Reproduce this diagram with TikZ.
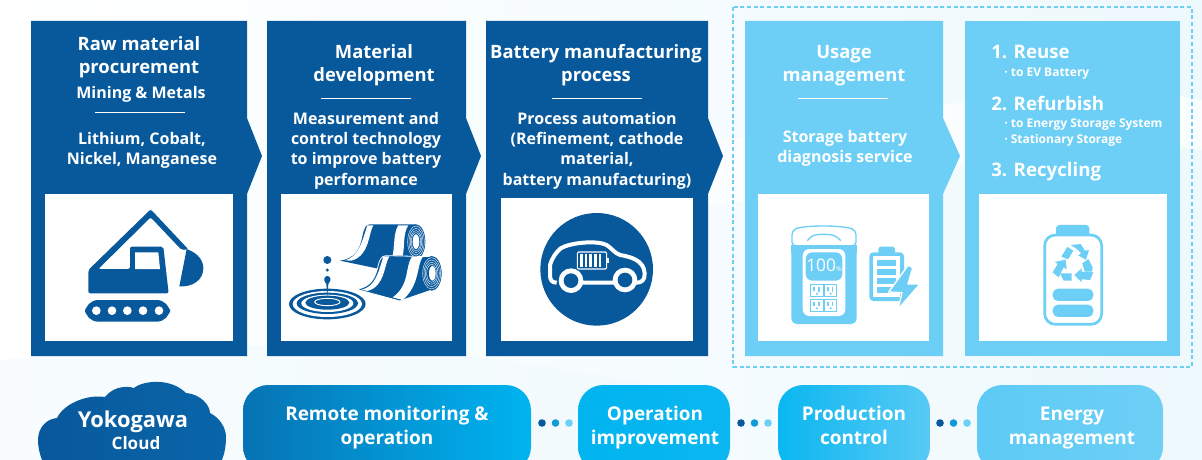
\documentclass[tikz,border=0pt]{standalone}
\usepackage{xcolor}
\usepackage{fontspec}
\setmainfont{Open Sans}
\definecolor{darkpanel}{HTML}{08589C}
\definecolor{lightpanel}{HTML}{6DCFF6}
\definecolor{midblue}{HTML}{0F9AD8}
\definecolor{pillcyan}{HTML}{00B4F0}
\definecolor{pillstart}{HTML}{0673B4}
\definecolor{paleback}{HTML}{EEF9FD}

\begin{document}
\begin{tikzpicture}[x=0.75pt,y=0.75pt,yscale=-1,xscale=1,
  headtext/.style={inner sep=0.75pt,align=center,text=white,font=\bfseries\fontsize{13.8}{17.3}\selectfont},
  bodytext/.style={inner sep=0.75pt,align=center,text=white,font=\bfseries\fontsize{12}{15.3}\selectfont},
  listhead/.style={anchor=west,inner sep=0.75pt,text=white,font=\bfseries\fontsize{14}{17}\selectfont},
  listsub/.style={anchor=west,inner sep=0.75pt,align=left,text=white,font=\bfseries\fontsize{9}{12.6}\selectfont},
  pilltext/.style={inner sep=0.75pt,align=center,text=white,font=\bfseries\fontsize{14.2}{18}\selectfont},
  outlet/.style={fill=white,draw=lightpanel,line width=0.4pt}]
\useasboundingbox (0,0) rectangle (1202,460);
\clip (0,0) rectangle (1202,460);
% background
\shade [left color=white,right color=paleback] (0,0) rectangle (1202,460);
\fill [white,opacity=0.7] (520,200) .. controls (800,240) and (1000,120) .. (1202,150) -- (1202,100) .. controls (1000,60) and (800,160) .. (520,150) -- cycle;
\fill [paleback,opacity=0.4] (0,360) .. controls (300,330) and (500,350) .. (720,400) -- (720,460) -- (0,460) -- cycle;
% panels
\fill [darkpanel] (31,21) -- (247,21) -- (247,118) -- (262,156) -- (247,194) -- (247,356) -- (31,356) -- cycle;
\fill [darkpanel] (267,21) -- (466,21) -- (466,118) -- (481,156) -- (466,194) -- (466,356) -- (267,356) -- cycle;
\fill [darkpanel] (486,21) -- (708,21) -- (708,118) -- (723,156) -- (708,194) -- (708,356) -- (486,356) -- cycle;
\fill [lightpanel] (745,21) -- (943,21) -- (943,118) -- (960,156) -- (943,194) -- (943,356) -- (745,356) -- cycle;
\fill [lightpanel] (965,21) rectangle (1180,356);
\draw [lightpanel,dash pattern=on 3pt off 2pt,line width=0.9pt] (733,7) rectangle (1192,367);
% white boxes
\fill [white] (45,194) rectangle (233,341);
\fill [white] (281,194) rectangle (452,341);
\fill [white] (501,198) rectangle (693,341);
\fill [white] (758,194) rectangle (929,341);
\fill [white] (979,194) rectangle (1167,341);
% panel texts
\node (rawhead) at (139,57.5) [headtext] {Raw material\\procurement};
\node (rawsub) at (141,94) [bodytext] {Mining \& Metals};
\draw [white,line width=0.6pt] (95,112) -- (185,112);
\node (rawbody) at (142,150.5) [bodytext] {Lithium, Cobalt,\\Nickel, Manganese};
\node (mathead) at (374,65) [headtext] {Material\\development};
\draw [white,line width=0.6pt] (321,98) -- (411,98);
\node (matbody) at (366,150.5) [bodytext] {Measurement and\\control technology\\to improve battery\\performance};
\node (bathead) at (596,65) [headtext] {Battery manufacturing\\process};
\draw [white,line width=0.6pt] (552,98) -- (642,98);
\node (batbody) at (597,150.5) [bodytext] {Process automation\\(Refinement, cathode\\material,\\battery manufacturing)};
\node (usehead) at (844,66) [headtext] {Usage\\management};
\draw [white,line width=0.6pt] (798,98) -- (888,98);
\node (usebody) at (845,148.5) [bodytext] {Storage battery\\diagnosis service};
\node (reuse) at (990,52) [listhead] {1. Reuse};
\node (reusesub) at (1003,74) [listsub] {· to EV Battery};
\node (refurb) at (990,103) [listhead] {2. Refurbish};
\node (refurbsub) at (1003,132.5) [listsub] {· to Energy Storage System\\· Stationary Storage};
\node (recycle) at (990,172) [listhead] {3. Recycling};
% excavator
\begin{scope}[shift={(30,190)},scale=1/3]
\fill [darkpanel,rounded corners=1.5pt] (175,240) -- (362,58) -- (475,178) -- (455,180) -- (362,82) -- (205,237) -- (300,237) -- (300,170) -- (400,170) -- (416,310) -- (175,310) -- cycle;
\fill [white] (315,187) -- (385,187) -- (390,237) -- (315,237) -- cycle;
\fill [darkpanel] (470,177) .. controls (505,190) and (520,212) .. (520,235) .. controls (520,268) and (490,292) .. (448,289) -- cycle;
\fill [darkpanel,rounded corners=10pt] (165,330) rectangle (420,395);
\foreach \xpos in {199,246,292,339,387} \fill [white] (\xpos,362) circle (13);
\end{scope}
% rolls and ripples
\begin{scope}[shift={(30,190)},scale=1/3]
\fill [darkpanel] (930,212) .. controls (975,205) and (990,180) .. (998,135) .. controls (1002,115) and (1008,103) .. (1020,103) -- (1158,103) -- (1158,207) -- (1040,235) -- cycle;
\fill [white] (1012,106) -- (1030,106) .. controls (1015,130) and (1020,195) .. (965,212) -- (945,211) .. controls (985,200) and (995,160) .. (1012,106) -- cycle;
\fill [white] (1105,106) -- (1135,106) .. controls (1118,130) and (1125,170) .. (1118,197) -- (1088,197) .. controls (1095,160) and (1090,130) .. (1105,106) -- cycle;
\fill [darkpanel] (1158,155) ellipse [x radius=28,y radius=52];
\foreach \rxval/\ryval in {25/47,21/40,17/33,14/27} \draw [white,line width=0.3pt] (1158,155) ellipse [x radius=\rxval,y radius=\ryval];
\fill [white] (1158,155) ellipse [x radius=10,y radius=22];
\fill [darkpanel,draw=white,line width=0.6pt] (980,298) .. controls (1020,290) and (1035,270) .. (1045,225) .. controls (1048,210) and (1055,197) .. (1068,197) -- (1205,200) -- (1205,300) -- (1110,333) -- cycle;
\fill [white] (1060,199) -- (1078,199) .. controls (1062,225) and (1065,290) .. (1012,303) -- (995,299) .. controls (1035,290) and (1045,250) .. (1060,199) -- cycle;
\fill [white] (1145,201) -- (1178,201) .. controls (1160,225) and (1170,285) .. (1118,330) -- (1088,322) .. controls (1140,285) and (1125,230) .. (1145,201) -- cycle;
\fill [darkpanel] (1205,250) ellipse [x radius=30,y radius=52];
\foreach \rxval/\ryval in {27/47,23/40,19/33,15/27} \draw [white,line width=0.3pt] (1205,250) ellipse [x radius=\rxval,y radius=\ryval];
\fill [white] (1207,250) ellipse [x radius=10,y radius=22];
\fill [darkpanel] (892,342) ellipse [x radius=115,y radius=46];
\fill [white] (892,342) ellipse [x radius=104,y radius=39];
\fill [darkpanel] (892,340) ellipse [x radius=92,y radius=32];
\fill [white] (892,340) ellipse [x radius=78,y radius=26];
\fill [darkpanel] (892,338) ellipse [x radius=66,y radius=21];
\draw [white,line width=0.7pt] (892,336) ellipse [x radius=38,y radius=11];
\fill [darkpanel] (892,210) circle (12);
\fill [darkpanel] (892,240) circle (5);
\fill [darkpanel] (892,320) -- (889,282) .. controls (876,268) and (885,258) .. (892,258) .. controls (899,258) and (908,268) .. (895,282) -- cycle;
\end{scope}
% car
\begin{scope}[shift={(490,190)},scale=1/3]
\fill [darkpanel] (320,238) circle (169);
\draw [white,line width=3pt,line join=round] (200,278) .. controls (185,278) and (180,270) .. (180,255) -- (180,225) .. controls (185,205) and (200,185) .. (212,175) .. controls (240,158) and (320,150) .. (350,165) .. controls (365,175) and (375,190) .. (390,195) .. controls (420,200) and (462,210) .. (464,250) .. controls (465,270) and (455,278) .. (440,278) -- (210,278);
\foreach \xpos/\ypos in {243/272,405/270} {
  \fill [white] (\xpos,\ypos) circle (37);
  \fill [darkpanel] (\xpos,\ypos) circle (22);
}
\draw [white,line width=0.8pt,rounded corners=1pt] (262,186) rectangle (350,237);
\fill [white] (350,204) rectangle (356,220);
\foreach \xpos in {270,284,298,312,326} \fill [white] (\xpos,193) rectangle (\xpos+8,230);
\end{scope}
% storage battery
\begin{scope}[shift={(490,190)},scale=1/3]
\fill [lightpanel,rounded corners=4pt] (904,165) rectangle (1100,402);
\fill [lightpanel] (904,165) rectangle (1100,190);
\draw [lightpanel,line width=1pt,rounded corners=3pt] (906,168) -- (906,122) .. controls (940,105) and (1060,105) .. (1098,122) -- (1098,168) -- cycle;
\draw [lightpanel,line width=1pt] (952,152) .. controls (965,135) and (975,133) .. (1000,133) .. controls (1025,133) and (1038,135) .. (1052,152);
\fill [white,rounded corners=5pt] (938,177) rectangle (1066,378);
\fill [lightpanel,rounded corners=5pt] (947,187) rectangle (1057,272);
\node (display) at (1002,226) [inner sep=0pt,text=white,font=\fontsize{13}{14}\selectfont] {100\scalebox{0.4}{\%}};
\foreach \xpos in {962,1003} \foreach \ypos in {283,327} {
  \draw [outlet] (\xpos,\ypos) rectangle (\xpos+37,\ypos+37);
  \fill [lightpanel] (\xpos+8,\ypos+8) rectangle (\xpos+14,\ypos+20);
  \fill [lightpanel] (\xpos+22,\ypos+8) rectangle (\xpos+27,\ypos+22);
  \fill [lightpanel] (\xpos+19,\ypos+28) circle (3.5);
}
\fill [lightpanel,rounded corners=2pt] (1165,170) rectangle (1215,195);
\fill [lightpanel,rounded corners=3pt] (1138,187) rectangle (1242,333);
\fill [white] (1150,199) rectangle (1230,320);
\foreach \ypos in {210,237,265,292} \fill [lightpanel] (1160,\ypos) rectangle (1218,\ypos+18);
\fill [lightpanel,draw=white,line width=1pt,line join=round] (1255,225) -- (1196,306) -- (1236,308) -- (1224,358) -- (1290,282) -- (1254,282) -- (1268,234) -- cycle;
\end{scope}
% recycling battery
\begin{scope}[shift={(950,0)},scale=1/3]
\fill [lightpanel,rounded corners=2.5pt] (318,675) rectangle (418,712);
\fill [white,draw=lightpanel,line width=2pt,rounded corners=8pt] (284,705) rectangle (455,973);
\fill [lightpanel,rounded corners=4pt] (308,866) rectangle (430,903);
\fill [lightpanel,rounded corners=4pt] (308,914) rectangle (430,951);
\fill [lightpanel] (362,735) -- (392,732) -- (405,752) -- (417,750) -- (408,779) -- (384,766) -- (394,760) -- (378,745) -- cycle;
\fill [lightpanel] (334,770) -- (352,741) -- (370,752) -- (354,778) -- cycle;
\fill [lightpanel] (308,817) -- (323,792) -- (314,786) -- (347,779) -- (350,808) -- (341,802) -- (326,832) -- cycle;
\fill [lightpanel] (397,790) -- (415,777) -- (428,802) -- (426,815) -- (404,815) -- cycle;
\fill [lightpanel] (373,825) -- (395,805) -- (395,815) -- (430,817) -- (420,840) -- (395,838) -- (395,847) -- cycle;
\fill [lightpanel] (330,820) -- (365,820) -- (365,842) -- (341,842) -- cycle;
\end{scope}
% cloud and pills
\shade [left color=darkpanel,right color=darkpanel!80!midblue] (50,473) .. controls (42,465) and (38,450) .. (38,440) .. controls (38,428) and (46,419) .. (57,418) .. controls (63,405) and (85,394) .. (105,397) .. controls (112,388) and (124,385) .. (134,388) .. controls (142,381) and (170,377) .. (186,393) .. controls (200,394) and (210,405) .. (210,413) .. controls (220,418) and (226,428) .. (226,437) .. controls (226,455) and (220,468) .. (212,473) -- cycle;
\node (yoko) at (133,422) [inner sep=0.75pt,text=white,font=\bfseries\fontsize{16.4}{18}\selectfont] {Yokogawa};
\node (cloud) at (136,443) [inner sep=0.75pt,text=white,font=\bfseries\fontsize{12.8}{14}\selectfont] {Cloud};
\shade [left color=pillstart,right color=pillcyan,rounded corners=19pt] (243,385) rectangle (531,472);
\shade [left color=pillcyan,right color=pillcyan!90!lightpanel,rounded corners=19pt] (578,385) rectangle (730,472);
\shade [left color=pillcyan!90!lightpanel,right color=lightpanel!80!pillcyan,rounded corners=19pt] (778,385) rectangle (930,472);
\shade [left color=lightpanel!85!pillcyan,right color=lightpanel,rounded corners=19pt] (977,385) rectangle (1163,472);
\node (remote) at (387,428) [pilltext] {Remote monitoring \&\\operation};
\node (operation) at (655,428) [pilltext] {Operation\\improvement};
\node (production) at (854,425) [pilltext] {Production\\control};
\node (energy) at (1072,428) [pilltext] {Energy\\management};
% dots
\foreach \xpos in {542,741,940} {
  \fill [darkpanel] (\xpos,423) circle (3.8);
  \fill [midblue] (\xpos+13.5,423) circle (3.8);
  \fill [lightpanel] (\xpos+27,423) circle (3.8);
}
\end{tikzpicture}
\end{document}
